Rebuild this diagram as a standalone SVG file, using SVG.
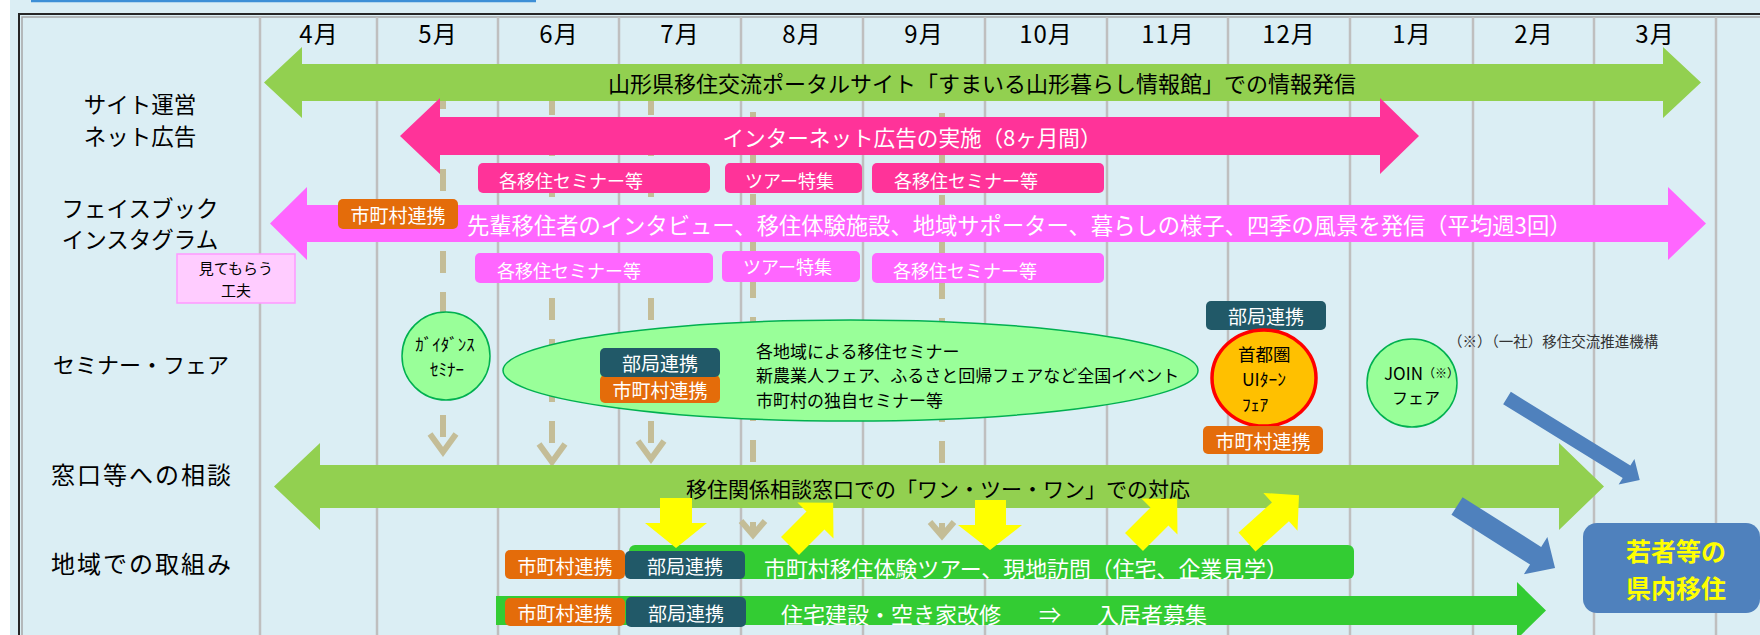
<svg xmlns="http://www.w3.org/2000/svg" width="1760" height="635" viewBox="0 0 1760 635">
<defs>
<style>
.t,.t tspan{font-family:"Noto Sans CJK JP","Noto Sans CJK SC",sans-serif;dominant-baseline:central}
.c{text-anchor:middle}
.w{fill:#FFFFFF}
.k{fill:#000000}
.col{stroke:#BFBFBF;stroke-width:2.5}
.dash{stroke:#C4BD97;stroke-width:6;stroke-dasharray:22 19;fill:none}
.vh{stroke:#C4BD97;stroke-width:6;fill:none;stroke-linejoin:miter}
.lime{fill:#92D050}
.pink{fill:#FF3399}
.mag{fill:#FF66FF}
.org{fill:#E46C0A}
.teal{fill:#215968}
.grn{fill:#33CC33}
.yel{fill:#FFFF00}
.blu{fill:#4F81BD}
.lg{fill:#99FF99;stroke:#00B050;stroke-width:1.5}
</style>
</defs>
<rect x="0" y="0" width="1760" height="635" fill="#DBEEF4"/>
<rect x="0" y="0" width="10" height="635" fill="#FFFFFF"/>
<line x1="31" y1="1" x2="536" y2="1" stroke="#3D8FD6" stroke-width="2.5"/>
<g id="grid">
<path d="M19,635 V14 H1760" stroke="#262626" stroke-width="2" fill="none"/>
<path d="M22,635 V17 H1760" stroke="#A6A6A6" stroke-width="1.5" fill="none"/>
<line class="col" x1="260" y1="17" x2="260" y2="635"/>
<line class="col" x1="377" y1="17" x2="377" y2="635"/>
<line class="col" x1="498" y1="17" x2="498" y2="635"/>
<line class="col" x1="619" y1="17" x2="619" y2="635"/>
<line class="col" x1="741" y1="17" x2="741" y2="635"/>
<line class="col" x1="863" y1="17" x2="863" y2="635"/>
<line class="col" x1="985" y1="17" x2="985" y2="635"/>
<line class="col" x1="1107" y1="17" x2="1107" y2="635"/>
<line class="col" x1="1228" y1="17" x2="1228" y2="635"/>
<line class="col" x1="1350" y1="17" x2="1350" y2="635"/>
<line class="col" x1="1473" y1="17" x2="1473" y2="635"/>
<line class="col" x1="1594" y1="17" x2="1594" y2="635"/>
<line class="col" x1="1716" y1="17" x2="1716" y2="635"/>
</g>
<g id="months" class="t c k" font-size="24" letter-spacing="1">
<text x="319" y="32">4月</text>
<text x="438" y="32">5月</text>
<text x="559" y="32">6月</text>
<text x="680" y="32">7月</text>
<text x="802" y="32">8月</text>
<text x="924" y="32">9月</text>
<text x="1046" y="32">10月</text>
<text x="1168" y="32">11月</text>
<text x="1289" y="32">12月</text>
<text x="1412" y="32">1月</text>
<text x="1534" y="32">2月</text>
<text x="1655" y="32">3月</text>
</g>
<g id="rowlabels" class="t c k">
<text x="140" y="103" font-size="22.5"><tspan x="140" y="103">サイト運営</tspan><tspan x="140" y="135">ネット広告</tspan></text>
<text x="140" y="207" font-size="22.5"><tspan x="140" y="207">フェイスブック</tspan><tspan x="140" y="238">インスタグラム</tspan></text>
<text x="141" y="363" font-size="22">セミナー・フェア</text>
<text x="142" y="473" font-size="24" letter-spacing="2">窓口等への相談</text>
<text x="142" y="562" font-size="24" letter-spacing="2">地域での取組み</text>
</g>
<g id="connectors">
<line class="dash" x1="443" y1="87" x2="443" y2="437"/>
<polyline class="vh" points="430,434 443,452 456,434"/>
<line class="dash" x1="552" y1="93" x2="552" y2="443"/>
<polyline class="vh" points="539,444 552,462 565,444"/>
<line class="dash" x1="651" y1="93" x2="651" y2="443"/>
<polyline class="vh" points="638,441 651,459 664,441"/>
<line class="dash" x1="753" y1="112" x2="753" y2="534"/>
<polyline class="vh" points="741,521 753,535 765,521"/>
<line class="dash" x1="942" y1="113" x2="942" y2="535"/>
<polyline class="vh" points="930,522 942,536 954,522"/>
</g>
<g id="site">
<polygon class="lime" points="264,82.5 302,47 302,64 1663,64 1663,47 1701,82.5 1663,118 1663,101 302,101 302,118"/>
<text class="t c k" x="982" y="82" font-size="22">山形県移住交流ポータルサイト「すまいる山形暮らし情報館」での情報発信</text>
</g>
<g id="netad">
<polygon class="pink" points="400,136 440,98 440,117 1380,117 1380,98 1419,136 1380,174 1380,155 440,155 440,174"/>
<text class="t c w" x="912" y="136" font-size="21.6">インターネット広告の実施（8ヶ月間）</text>
</g>
<g id="pink-boxes-1">
<rect class="pink" x="478" y="163" width="232" height="30" rx="5"/>
<text class="t w" x="499" y="180" font-size="18">各移住セミナー等</text>
<rect class="pink" x="725" y="163" width="137" height="30" rx="5"/>
<text class="t w" x="745" y="180" font-size="18">ツアー特集</text>
<rect class="pink" x="872" y="163" width="232" height="30" rx="5"/>
<text class="t w" x="894" y="180" font-size="18">各移住セミナー等</text>
</g>
<g id="facebook">
<polygon class="mag" points="270,223.5 307,187 307,205 1668,205 1668,187 1706,223.5 1668,260 1668,242 307,242 307,260"/>
<text class="t w" x="467" y="224" font-size="22.3">先輩移住者のインタビュー、移住体験施設、地域サポーター、暮らしの様子、四季の風景を発信（平均週3回）</text>
<rect class="org" x="338" y="199" width="120" height="30" rx="5"/>
<text class="t c w" x="398" y="214" font-size="19">市町村連携</text>
</g>
<g id="pink-boxes-2">
<rect class="mag" x="475" y="253" width="238" height="30" rx="5"/>
<text class="t w" x="497" y="270" font-size="18">各移住セミナー等</text>
<rect class="mag" x="722" y="251" width="138" height="31" rx="5"/>
<text class="t w" x="743" y="266" font-size="18">ツアー特集</text>
<rect class="mag" x="872" y="253" width="232" height="30" rx="5"/>
<text class="t w" x="893" y="270" font-size="18">各移住セミナー等</text>
</g>
<g id="mitemorau">
<rect x="177" y="254" width="118" height="49" fill="#FFCCFF" stroke="#FF99FF" stroke-width="1.5"/>
<text class="t c k" x="236" y="267" font-size="15"><tspan x="236" y="267">見てもらう</tspan><tspan x="236" y="289">工夫</tspan></text>
</g>
<g id="guidance">
<ellipse class="lg" cx="446" cy="356" rx="44" ry="44"/>
<text class="t c k" x="446" y="343" font-size="17"><tspan x="445" y="343">ｶﾞｲﾀﾞﾝｽ</tspan><tspan x="447" y="368">ｾﾐﾅｰ</tspan></text>
</g>
<g id="seminars">
<ellipse class="lg" cx="850.5" cy="370.5" rx="347.5" ry="50.5"/>
<rect class="org" x="600" y="375" width="120" height="28" rx="5"/>
<rect class="teal" x="600" y="348" width="120" height="29" rx="5"/>
<text class="t c w" x="660" y="362" font-size="19">部局連携</text>
<text class="t c w" x="660" y="389" font-size="19">市町村連携</text>
<text class="t k" x="756" y="349.5" font-size="17"><tspan x="756" y="349.5">各地域による移住セミナー</tspan><tspan x="756" y="374">新農業人フェア、ふるさと回帰フェアなど全国イベント</tspan><tspan x="756" y="398.5">市町村の独自セミナー等</tspan></text>
</g>
<g id="shutoken">
<rect class="teal" x="1206" y="301" width="120" height="29" rx="5"/>
<text class="t c w" x="1266" y="315.5" font-size="19">部局連携</text>
<ellipse cx="1264" cy="378" rx="52" ry="48" fill="#FFC000" stroke="#FF0000" stroke-width="3.5"/>
<text class="t k" x="1238" y="353" font-size="17.5"><tspan x="1238" y="353">首都圏</tspan><tspan x="1242" y="378">UIﾀｰﾝ</tspan><tspan x="1242" y="403">ﾌｪｱ</tspan></text>
<rect class="org" x="1203" y="426" width="120" height="28" rx="5"/>
<text class="t c w" x="1263" y="440" font-size="19">市町村連携</text>
</g>
<g id="join">
<ellipse class="lg" cx="1412" cy="383" rx="45" ry="44"/>
<text class="t k" x="1384" y="372" font-size="17"><tspan x="1384" y="372">JOIN</tspan><tspan font-size="12">（※）</tspan><tspan x="1392" y="397" font-size="16">フェア</tspan></text>
</g>
<g id="note">
<text class="t" x="1448" y="340" font-size="14.5" fill="#333333">（※）（一社）移住交流推進機構</text>
</g>
<g id="madoguchi">
<polygon class="lime" points="274,486.5 320,443 320,465 1559,465 1559,443 1604,486.5 1559,530 1559,508 320,508 320,530"/>
<text class="t c k" x="938" y="488" font-size="21">移住関係相談窓口での「ワン・ツー・ワン」での対応</text>
</g>
<g id="tour">
<rect class="grn" x="629" y="545" width="725" height="34" rx="6"/>
<rect class="org" x="505" y="550" width="120" height="29" rx="5"/>
<text class="t c w" x="565" y="565" font-size="19">市町村連携</text>
<rect class="teal" x="625" y="551" width="120" height="28" rx="5"/>
<text class="t c w" x="685" y="565" font-size="19">部局連携</text>
<text class="t w" x="764" y="567" font-size="21.9">市町村移住体験ツアー、現地訪問（住宅、企業見学）</text>
</g>
<g id="housing">
<polygon class="grn" points="496,596 1517,596 1517,582 1546,610.5 1517,639 1517,625 496,625"/>
<rect class="org" x="505" y="598" width="120" height="28" rx="5"/>
<text class="t c w" x="565" y="612" font-size="19">市町村連携</text>
<rect class="teal" x="626" y="597" width="120" height="30" rx="5"/>
<text class="t c w" x="686" y="612" font-size="19">部局連携</text>
<text class="t w" x="781" y="613" font-size="22"><tspan x="781" y="613">住宅建設・空き家改修</tspan><tspan x="1039" y="613">⇒</tspan><tspan x="1097" y="613">入居者募集</tspan></text>
</g>
<g id="yellow-arrows">
<polygon class="yel" points="660,498 692,498 692,523 707,523 676,548 645,523 660,523"/>
<polygon class="yel" points="975,500 1006,500 1006,525 1022,525 990,550 958,525 975,525"/>
<polygon class="yel" transform="translate(790,546) rotate(-45)" points="0,-12.7 36,-12.7 36,-25.5 61,0 36,25.5 36,12.7 0,12.7"/>
<polygon class="yel" transform="translate(1134,542) rotate(-45)" points="0,-12.7 36,-12.7 36,-25.5 61,0 36,25.5 36,12.7 0,12.7"/>
<polygon class="yel" transform="translate(1247,542) rotate(-42)" points="0,-12.7 45,-12.7 45,-25.5 70,0 45,25.5 45,12.7 0,12.7"/>
</g>
<g id="blue-arrows">
<polygon class="blu" transform="translate(1507,398) rotate(31.7)" points="0,-7.3 140.5,-7.3 140.5,-15 156,0 140.5,15 140.5,7.3 0,7.3"/>
<polygon class="blu" transform="translate(1457,506) rotate(32.3)" points="0,-10.4 93,-10.4 93,-22 116,0 93,22 93,10.4 0,10.4"/>
</g>
<g id="result">
<rect class="blu" x="1583" y="523" width="177" height="90" rx="14"/>
<text class="t c" x="1676" y="550" font-size="25" font-weight="bold" fill="#FFFF00"><tspan x="1676" y="550">若者等の</tspan><tspan x="1676" y="587">県内移住</tspan></text>
</g>
</svg>
